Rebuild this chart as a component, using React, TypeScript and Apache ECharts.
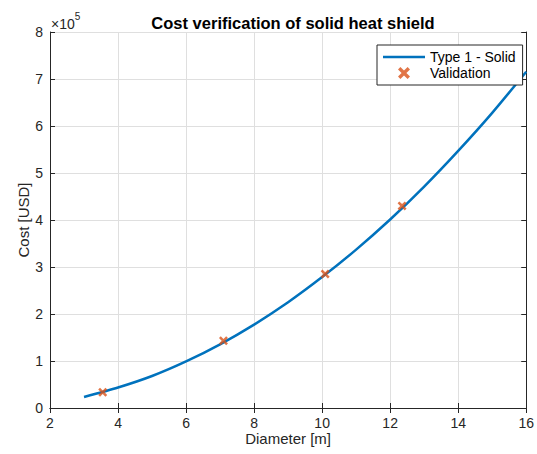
import React, { useEffect, useRef } from "react";
import * as echarts from "echarts";

const diameters = [3, 4, 5, 6, 7, 8, 9, 10, 11, 12, 13, 14, 15, 16];
const costs = [23500, 43500, 68000, 99000, 135500, 177500, 225000, 278500, 337000, 401000, 471000, 547000, 628000, 715500];
const validationDiameters = [3.55, 7.1, 10.09, 12.35];
const validationCosts = [33400, 143000, 285000, 430000];
const xMin = 2, xMax = 16, xStep = 2;
const yMin = 0, yMax = 800000, yStep = 100000;
const yScale = 100000;

const FONT = "Liberation Sans, Arial, sans-serif";
const AX = "#262626";
const XMARK = "path://M0,2 L2,0 L5,3 L8,0 L10,2 L7,5 L10,8 L8,10 L5,7 L2,10 L0,8 L3,5 Z";
const LINEICON = "path://M0,0 L42,0 L42,2.5 L0,2.5 Z";

export default function App() {
  const ref = useRef<HTMLDivElement>(null);
  useEffect(() => {
    if (!ref.current) return;
    const chart = echarts.init(ref.current, undefined, { renderer: "svg" });
    const lineData = diameters.map((d, i) => [d, costs[i]]);
    const valData = validationDiameters.map((d, i) => [d, validationCosts[i]]);
    const tickStyle = { show: true, inside: true, length: 5, lineStyle: { color: AX } };
    chart.setOption({
      animation: false,
      backgroundColor: "#fff",
      title: {
        text: "Cost verification of solid heat shield",
        left: 288, textAlign: "center", top: 9,
        textStyle: { fontFamily: FONT, fontSize: 16.5, fontWeight: "bold", color: "#000" },
      },
      grid: { left: 50, right: 10, top: 32, bottom: 46, containLabel: false },
      legend: {
        orient: "vertical", left: 377, top: 45, z: 10,
        backgroundColor: "#fff", borderColor: AX, borderWidth: 1,
        padding: [5, 7, 5, 6], itemGap: 2, itemWidth: 42, itemHeight: 12,
        textStyle: { fontFamily: FONT, fontSize: 14, color: "#000" },
        data: [{ name: "Type 1 - Solid", icon: LINEICON }, { name: "Validation" }],
      },
      xAxis: [
        {
          type: "value", min: xMin, max: xMax, interval: xStep,
          name: "Diameter [m]", nameLocation: "middle", nameGap: 23, nameMoveOverlap: false,
          nameTextStyle: { fontFamily: FONT, fontSize: 15, color: AX },
          axisLine: { show: true, lineStyle: { color: AX } },
          axisTick: tickStyle,
          axisLabel: { fontFamily: FONT, fontSize: 14, color: AX, margin: 8 },
          splitLine: { show: true, lineStyle: { color: "#dfdfdf" } },
        },
        {
          type: "value", position: "top", min: xMin, max: xMax, interval: xStep,
          axisLine: { show: true, lineStyle: { color: AX } },
          axisTick: tickStyle, axisLabel: { show: false }, splitLine: { show: false },
        },
      ],
      yAxis: [
        {
          type: "value", min: yMin, max: yMax, interval: yStep,
          name: "Cost [USD]", nameLocation: "middle", nameGap: 19, nameMoveOverlap: false,
          nameTextStyle: { fontFamily: FONT, fontSize: 15, color: AX },
          axisLine: { show: true, lineStyle: { color: AX } },
          axisTick: tickStyle,
          axisLabel: { fontFamily: FONT, fontSize: 14, color: AX, margin: 7, formatter: (v: number) => String(v / yScale) },
          splitLine: { show: true, lineStyle: { color: "#dfdfdf" } },
        },
        {
          type: "value", position: "right", min: yMin, max: yMax, interval: yStep,
          axisLine: { show: true, lineStyle: { color: AX } },
          axisTick: tickStyle, axisLabel: { show: false }, splitLine: { show: false },
        },
      ],
      graphic: [
        {
          type: "text", left: 51, top: 11,
          style: {
            text: "{a|×10}{b|5}",
            rich: {
              a: { fontFamily: FONT, fontSize: 14, fill: AX, padding: [6, 0, 0, 0] },
              b: { fontFamily: FONT, fontSize: 10, fill: AX, verticalAlign: "top" },
            },
          },
        },
      ],
      series: [
        {
          name: "Type 1 - Solid", type: "line", data: lineData, smooth: 0.25,
          symbol: "none", lineStyle: { color: "#0072BD", width: 2.5 }, itemStyle: { color: "#0072BD" },
          xAxisIndex: 0, yAxisIndex: 0, z: 3,
        },
        {
          name: "Validation", type: "scatter", data: valData,
          symbol: XMARK, symbolSize: 9, itemStyle: { color: "#D95319" },
          xAxisIndex: 0, yAxisIndex: 0, z: 4,
        },
      ],
    });
    return () => chart.dispose();
  }, []);
  return <div ref={ref} style={{ position: "fixed", left: 0, top: 0, width: 537, height: 454 }} />;
}
